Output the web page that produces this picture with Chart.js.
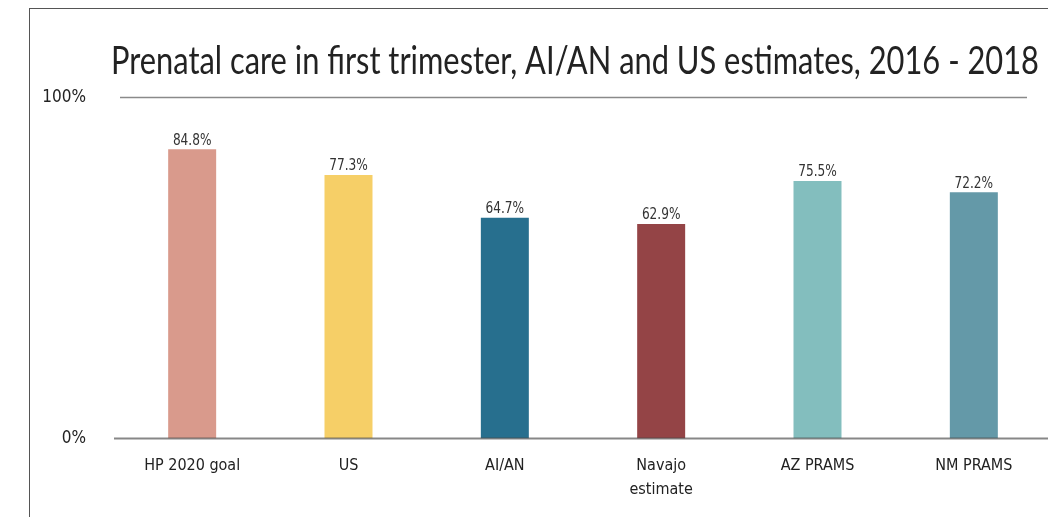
<!DOCTYPE html>
<html>
<head>
<meta charset="utf-8">
<script src="https://cdn.jsdelivr.net/npm/chart.js@4"></script>
<style>
  html, body { margin: 0; padding: 0; width: 1048px; height: 517px; overflow: hidden; background: #fff; }
  .frame { position: absolute; left: 29px; top: 8px; width: 1100px; height: 600px; border-left: 1.5px solid #555; border-top: 1.5px solid #555; }
  .wrap { position: absolute; left: 0; top: 0; width: 1060px; height: 517px; }
</style>
</head>
<body>
<div class="frame"></div>
<div class="wrap"><canvas id="prenatalChart"></canvas></div>
<script>
const categories = ['HP 2020 goal', 'US', 'AI/AN', ['Navajo', 'estimate'], 'AZ PRAMS', 'NM PRAMS'];
const values = [84.8, 77.3, 64.7, 62.9, 75.5, 72.2];
const barColors = ['#D99A8C', '#F6CF67', '#276F8E', '#944446', '#83BEBE', '#6499A8'];
const tickValues = [0, 100];
const titleText = 'Prenatal care in first trimester, AI/AN and US estimates, 2016 - 2018';

const FONT = "'Liberation Sans Narrow', 'DejaVu Sans Condensed', 'Roboto Condensed', sans-serif";
const TITLE_FONT = "Lato, 'DejaVu Sans Condensed', sans-serif";

// title (condensed), axis lines at 0% and 100%, value labels above bars
const linesAndLabels = {
    id: 'linesAndLabels',
    beforeDatasetsDraw(chart) {
        const { ctx, scales: { y }, chartArea } = chart;
        const yTop = y.getPixelForValue(100);
        ctx.save();
        ctx.strokeStyle = '#8a8a8a';
        ctx.lineWidth = 1.5;
        ctx.beginPath();
        ctx.moveTo(chartArea.left + 6, yTop);
        ctx.lineTo(chartArea.right - 25, yTop);
        ctx.stroke();

        // title: squeeze horizontally to look like the condensed face of the original
        ctx.font = '38px ' + TITLE_FONT;
        ctx.fillStyle = '#222';
        ctx.textAlign = 'center';
        ctx.textBaseline = 'middle';
        const w = ctx.measureText(titleText).width;
        const sx = Math.min(1, 928 / w);
        ctx.translate(575, 62);
        ctx.scale(sx, 1);
        ctx.fillText(titleText, 0, 0);
        ctx.restore();
    },
    afterDatasetsDraw(chart) {
        const { ctx, scales: { y }, chartArea } = chart;
        const yZero = y.getPixelForValue(0);
        ctx.save();
        ctx.strokeStyle = 'rgba(70,70,70,0.65)';
        ctx.lineWidth = 2;
        ctx.beginPath();
        ctx.moveTo(chartArea.left, yZero);
        ctx.lineTo(chartArea.right, yZero);
        ctx.stroke();

        const meta = chart.getDatasetMeta(0);
        ctx.fillStyle = '#333';
        ctx.font = '15px ' + FONT;
        ctx.textAlign = 'center';
        ctx.textBaseline = 'bottom';
        meta.data.forEach((bar, i) => {
            ctx.save();
            ctx.translate(bar.x, bar.y - 1);
            ctx.scale(0.9, 1);
            ctx.fillText(values[i].toFixed(1) + '%', 0, 0);
            ctx.restore();
        });
        ctx.restore();
    }
};

const ctx = document.getElementById('prenatalChart');
new Chart(ctx, {
    type: 'bar',
    data: {
        labels: categories,
        datasets: [{
            data: values,
            backgroundColor: barColors,
            borderWidth: 0,
            barPercentage: 0.307,
            categoryPercentage: 1
        }]
    },
    options: {
        responsive: true,
        maintainAspectRatio: false,
        animation: false,
        layout: { padding: { left: 0, right: 8, top: 97.5, bottom: 0 } },
        plugins: {
            legend: { display: false },
            tooltip: { enabled: false },
            title: { display: false }
        },
        scales: {
            y: {
                min: 0,
                max: 100,
                afterBuildTicks(scale) {
                    scale.ticks = tickValues.map(v => ({ value: v }));
                },
                afterFit(scale) { scale.width = 114; },
                border: { display: false },
                grid: { display: false },
                ticks: {
                    padding: 20,
                    color: '#222',
                    font: { family: FONT, size: 17 },
                    callback: v => v + '%'
                }
            },
            x: {
                afterFit(scale) { scale.height = 78.5; },
                border: { display: false },
                grid: { display: false, drawTicks: false },
                ticks: {
                    padding: 15,
                    color: '#222',
                    maxRotation: 0,
                    autoSkip: false,
                    font: { family: FONT, size: 16, lineHeight: 1.5 }
                }
            }
        }
    },
    plugins: [linesAndLabels]
});
</script>
</body>
</html>
